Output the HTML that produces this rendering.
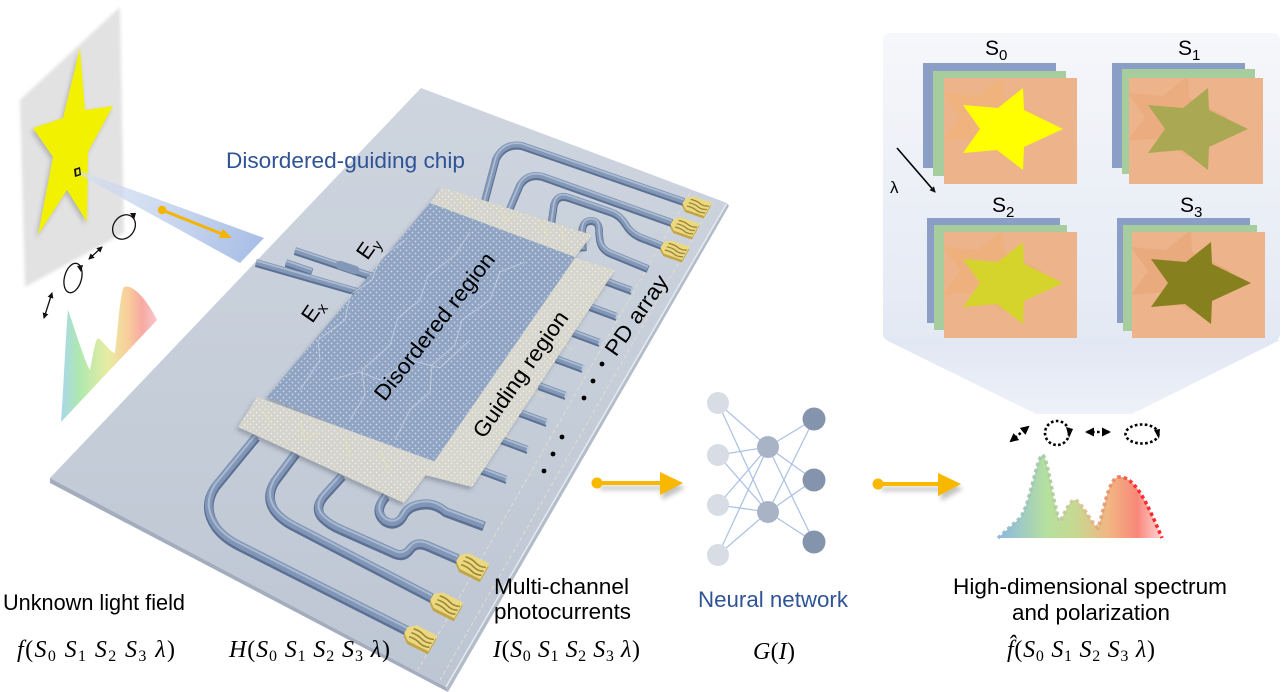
<!DOCTYPE html>
<html><head><meta charset="utf-8"><style>
html,body{margin:0;padding:0;background:#fff;}
svg{display:block;}
text{font-family:"Liberation Sans",Arial,sans-serif;}
.m text{font-family:"Liberation Serif","DejaVu Serif",serif;font-style:italic;}
.m tspan.u{font-style:normal;}
</style></head><body>
<svg width="1288" height="692" viewBox="0 0 1288 692" xmlns="http://www.w3.org/2000/svg">
<defs>
 <linearGradient id="chipG" x1="0" y1="0" x2="0" y2="1">
  <stop offset="0" stop-color="#ced5df"/><stop offset="1" stop-color="#bdc6d3"/>
 </linearGradient>
 <pattern id="dots" width="6" height="6" patternUnits="userSpaceOnUse">
  <circle cx="1.5" cy="1.5" r="0.85" fill="#fff" opacity="0.6"/>
  <circle cx="4.5" cy="4.5" r="0.85" fill="#fff" opacity="0.6"/>
 </pattern>
 <linearGradient id="beamG" x1="78" y1="172" x2="255" y2="250" gradientUnits="userSpaceOnUse">
  <stop offset="0" stop-color="#d4def2" stop-opacity="0.6"/><stop offset="1" stop-color="#a9bfe6"/>
 </linearGradient>
 <linearGradient id="specL" x1="60" y1="0" x2="157" y2="0" gradientUnits="userSpaceOnUse">
  <stop offset="0" stop-color="#9ed2ee"/><stop offset="0.2" stop-color="#a6e6a6"/>
  <stop offset="0.5" stop-color="#e6ea98"/><stop offset="0.7" stop-color="#f8c890"/>
  <stop offset="0.85" stop-color="#f6a098"/><stop offset="1" stop-color="#f8c0c8"/>
 </linearGradient>
 <linearGradient id="specR" x1="998" y1="0" x2="1162" y2="0" gradientUnits="userSpaceOnUse">
  <stop offset="0" stop-color="#8cb8e2"/><stop offset="0.3" stop-color="#b6e09e"/>
  <stop offset="0.48" stop-color="#c8d890"/><stop offset="0.68" stop-color="#f2b482"/>
  <stop offset="0.85" stop-color="#f8887a"/><stop offset="1" stop-color="#ffd4d8"/>
 </linearGradient>
 <linearGradient id="specRS" x1="998" y1="0" x2="1162" y2="0" gradientUnits="userSpaceOnUse">
  <stop offset="0" stop-color="#8ab8dc"/><stop offset="0.3" stop-color="#a6cca0"/>
  <stop offset="0.5" stop-color="#d8c498"/><stop offset="0.72" stop-color="#f08060"/>
  <stop offset="0.82" stop-color="#ff2020"/><stop offset="1" stop-color="#ff1010"/>
 </linearGradient>
 <linearGradient id="panelG" x1="0" y1="0" x2="0" y2="1">
  <stop offset="0" stop-color="#f6f7fb"/><stop offset="0.45" stop-color="#edf0f7"/><stop offset="1" stop-color="#e3e9f4"/>
 </linearGradient>
 <linearGradient id="funG" x1="0" y1="0" x2="0" y2="1">
  <stop offset="0" stop-color="#e1e7f3"/><stop offset="1" stop-color="#eef1f8"/>
 </linearGradient>
 <filter id="bl1" x="-20%" y="-20%" width="140%" height="140%"><feGaussianBlur stdDeviation="1.5"/></filter>
 <filter id="bl3" x="-30%" y="-30%" width="160%" height="160%"><feGaussianBlur stdDeviation="2.5"/></filter>
 <filter id="psh" x="-10%" y="-10%" width="120%" height="120%"><feDropShadow dx="-2" dy="3" stdDeviation="2" flood-color="#404a5a" flood-opacity="0.35"/></filter>
 <marker id="ah" markerWidth="6" markerHeight="6" refX="5" refY="3" orient="auto-start-reverse" markerUnits="userSpaceOnUse">
  <path d="M0,0 L6,3 L0,6 z" fill="#111"/>
 </marker>
 <marker id="ah2" markerWidth="9" markerHeight="9" refX="7" refY="4.5" orient="auto-start-reverse" markerUnits="userSpaceOnUse">
  <path d="M0,0 L9,4.5 L0,9 z" fill="#000"/>
 </marker>
 <path id="w1" d="M 256,436 L 215,486 Q 202,506 216,526 Q 224,537 240,545 L 408,630"/>
 <path id="w2" d="M 296,452 L 275,480 Q 265,496 275,510 Q 281,518 292,524 L 432,597"/>
 <path id="w3" d="M 342,475 L 323,496 Q 314,508 323,517 Q 330,524 342,529 L 396,553 Q 404,556 410,548 Q 416,540 428,545 L 458,558"/>
 <path id="w4" d="M 386,495 Q 373,510 385,520 Q 397,527 404,513 Q 410,503 428,503 Q 438,504 446,511 L 484,525"/>
 <path id="wa" d="M 484,203 L 496,158 Q 504,142 522,145 L 684,201"/>
 <path id="wb" d="M 508,212 L 520,184 Q 528,172 543,176 L 672,222"/>
 <path id="wc" d="M 551,225 L 554,204 Q 557,193 569,197 L 610,211 Q 620,214 626,224 Q 632,234 644,238 L 662,245"/>
 <path id="wd" d="M 583,250 L 582,232 Q 582,220 591,220 Q 600,220 599,232 L 600,240 Q 602,250 614,254 L 648,268"/>
 <path id="ea" d="M 256,262 L 368,294"/>
 <path id="eb" d="M 295,250 L 376,277"/>
 <path id="ec" d="M 286,262 L 312,271"/>
 <path id="stubs" d="M605,280 L632,290 M590,306 L617,316 M573,332 L600,342 M556,358 L583,368 M539,385 L566,395 M520,412 L547,422 M501,439 L528,449 M480,469 L507,479"/>
 <g id="pad">
  <polygon points="0,-3.5 7,-9 30,-9 30,9 7,9 0,3.5" fill="#c2a646" transform="translate(1,3)"/>
  <polygon points="0,-3.5 7,-9 30,-9 30,9 7,9 0,3.5" fill="#ecd97f"/>
  <path d="M6,-4.5 Q13,-5.5 18,-3.5 T29,-4 M6,0 Q13,-1 18,1 T29,0.5 M6,4.5 Q13,3.5 18,5.5 T29,5" stroke="#9a873a" stroke-width="1.6" fill="none"/>
 </g>
 <polygon id="st" points="119,51 80,69 79,92 53,72 19,75 36,51 19,27 54,30 79,10 80,32"/>
</defs>

<!-- left: screen + star -->
<polygon points="20,100 120,7 124,233 25,287" fill="#e2e2e2" filter="url(#bl1)"/>
<polygon points="80,48 85,110 113,106 88,152 87,222 67,190 38,235 53,157 33,128 63,118" fill="#888" opacity="0.5" filter="url(#bl3)" transform="translate(-2,3)"/>
<polygon points="80,48 85,110 113,106 88,152 87,222 67,190 38,235 53,157 33,128 63,118" fill="#f2f200"/>
<polygon points="78,170 80,175 240,263 264,238" fill="url(#beamG)"/>
<polygon points="74,169 80,167 81,175 75,177" fill="#111"/>
<polygon points="76,170 79,169 79.5,174 76.5,175" fill="#f2f200"/>
<line x1="162" y1="210" x2="222" y2="234" stroke="#f5b400" stroke-width="3"/>
<circle cx="162" cy="210" r="4.2" fill="#f5b400"/>
<polygon points="232,238 219,238.1 222.8,228.9" fill="#f5b400"/>
<g stroke="#111" stroke-width="1.3" fill="none">
 <line x1="44" y1="318" x2="52" y2="293" marker-start="url(#ah)" marker-end="url(#ah)"/>
 <ellipse cx="73" cy="278" rx="8.5" ry="15" transform="rotate(15 73 278)"/>
 <line x1="89" y1="259" x2="102" y2="247" marker-start="url(#ah)" marker-end="url(#ah)"/>
 <ellipse cx="124" cy="227" rx="10.5" ry="13" transform="rotate(35 124 227)"/>
</g>
<polygon points="77,266 83,265 81,272" fill="#111"/>
<polygon points="130,213 136,213 134,220" fill="#111"/>
<path d="M 61,422 C 64,380 66,330 68,310 C 72,320 84,360 90,370 C 93,355 95,340 98,338 C 104,342 110,352 115,353 C 118,330 120,292 124,287 C 134,283 150,305 157,320 Z" fill="url(#specL)" opacity="0.9"/>

<!-- chip -->
<polygon points="50,478 446,687 448,692 50,483" fill="#a3adbd"/>
<polygon points="446,687 727,203 729,206 448,692" fill="#b3bcc9"/>
<polygon points="421,88 727,203 446,687 50,478" fill="url(#chipG)"/>
<line x1="727" y1="203" x2="446" y2="687" stroke="#e6eaf0" stroke-width="1.5"/>
<line x1="690" y1="193" x2="418" y2="670" stroke="#e2ddd0" stroke-width="1" stroke-dasharray="4 3"/>
<line x1="713" y1="203" x2="440" y2="680" stroke="#e2ddd0" stroke-width="1" stroke-dasharray="4 3"/>

<g fill="none" stroke-linejoin="round">
 <g stroke="#5b7093" stroke-width="9.5" transform="translate(0,1.6)">
  <use href="#w1"/><use href="#w2"/><use href="#w3"/><use href="#w4"/>
 </g>
 <g stroke="#8196b6" stroke-width="7.5">
  <use href="#w1"/><use href="#w2"/><use href="#w3"/><use href="#w4"/>
 </g>
 <g stroke="#a9b9d1" stroke-width="2" transform="translate(0,-1.6)">
  <use href="#w1"/><use href="#w2"/><use href="#w3"/><use href="#w4"/>
 </g>
 <g stroke="#5b7093" stroke-width="7.5" transform="translate(0,1.3)">
  <use href="#wa"/><use href="#wb"/><use href="#wc"/><use href="#wd"/><use href="#ea"/><use href="#eb"/><use href="#ec"/><use href="#stubs"/>
 </g>
 <g stroke="#8398b7" stroke-width="6">
  <use href="#wa"/><use href="#wb"/><use href="#wc"/><use href="#wd"/><use href="#ea"/><use href="#eb"/><use href="#ec"/><use href="#stubs"/>
 </g>
 <g stroke="#aebdd3" stroke-width="1.6" transform="translate(0,-1.3)">
  <use href="#wa"/><use href="#wb"/><use href="#wc"/><use href="#wd"/><use href="#ea"/><use href="#eb"/><use href="#ec"/><use href="#stubs"/>
 </g>
 <line x1="340" y1="265" x2="355" y2="270" stroke="#8398b7" stroke-width="8.5" stroke-linecap="round"/>
</g>
<g stroke="#b8c6da" stroke-width="2">
 <path d="M633,287 L631,293 M618,313 L616,319 M601,339 L599,345 M584,365 L582,371 M567,392 L565,398 M548,419 L546,425 M529,446 L527,452 M508,476 L506,482"/>
</g>

<!-- patch -->
<g filter="url(#psh)">
 <polygon points="430,203 575,257 440,468 267,397" fill="#8fa3c3"/>
 <polygon points="430,203 575,257 440,468 267,397" fill="url(#dots)"/>
 <polygon points="442,187 592,235 575,257 430,203" fill="#d4d4cc"/>
 <polygon points="442,187 592,235 575,257 430,203" fill="url(#dots)"/>
 <polygon points="257,397 436,462 404,503 238,427" fill="#d4d4cc"/>
 <polygon points="257,397 436,462 404,503 238,427" fill="url(#dots)"/>
 <polygon points="575,258 615,270 472,487 425,475" fill="#d6d6cd"/>
 <polygon points="575,258 615,270 472,487 425,475" fill="url(#dots)"/>
</g>
<g fill="none" stroke="#dfe6f0" stroke-width="0.9" opacity="0.55">
 <path d="M300,390 L320,360 L318,340 L345,320 L350,295 L372,280 L380,258 L405,240"/>
 <path d="M350,420 L365,395 L362,370 L390,345 L398,318 L420,300 L428,276 L455,255 L470,232"/>
 <path d="M395,440 L410,410 L430,392 L432,365 L455,345 L462,320 L490,300 L500,272 L525,262"/>
 <path d="M330,380 L360,372 L380,380 L410,360 L440,368 L470,340"/>
</g>
<g fill="none" stroke="#efe3a8" stroke-width="0.9" opacity="0.6">
 <path d="M460,195 L470,210 M500,205 L505,222 L515,214 M540,220 L548,236 M560,228 L566,244"/>
 <path d="M262,410 L272,425 M300,420 L305,440 L318,432 M345,438 L350,458 M380,450 L388,470"/>
 <path d="M590,290 L600,300 M560,340 L572,350 M530,390 L545,398 M500,430 L512,440"/>
</g>

<use href="#pad" transform="matrix(0.894,0.447,-0.5,0.866,406,630)"/>
<use href="#pad" transform="matrix(0.894,0.447,-0.5,0.866,432,597)"/>
<use href="#pad" transform="matrix(0.894,0.447,-0.5,0.866,458,558)"/>
<use href="#pad" transform="matrix(0.80,0.28,-0.425,0.736,684,201)"/>
<use href="#pad" transform="matrix(0.80,0.28,-0.425,0.736,672,222)"/>
<use href="#pad" transform="matrix(0.80,0.28,-0.425,0.736,662,245)"/>

<g fill="#000">
 <circle cx="602" cy="364" r="2.4"/><circle cx="593" cy="381" r="2.4"/><circle cx="584" cy="398" r="2.4"/>
 <circle cx="562" cy="437" r="2.4"/><circle cx="553" cy="454" r="2.4"/><circle cx="544" cy="471" r="2.4"/>
</g>

<text x="226" y="168" font-size="22" fill="#2f5496" textLength="239" lengthAdjust="spacingAndGlyphs">Disordered-guiding chip</text>
<g transform="translate(434,326) rotate(-52)"><text x="0" y="8" text-anchor="middle" font-size="22" fill="#000" textLength="181" lengthAdjust="spacingAndGlyphs">Disordered region</text></g>
<g transform="translate(520,374) rotate(-55)"><text x="0" y="8" text-anchor="middle" font-size="22" fill="#000" textLength="149" lengthAdjust="spacingAndGlyphs">Guiding region</text></g>
<g transform="translate(636,315) rotate(-55)"><text x="0" y="8" text-anchor="middle" font-size="22" fill="#000" textLength="93" lengthAdjust="spacingAndGlyphs">PD array</text></g>
<g transform="translate(311,312) rotate(-55)"><text x="-9" y="8" font-size="22" fill="#000">E<tspan font-size="15" dy="4">x</tspan></text></g>
<g transform="translate(366,249) rotate(-55)"><text x="-9" y="8" font-size="22" fill="#000">E<tspan font-size="15" dy="4">y</tspan></text></g>

<!-- orange arrows -->
<g opacity="0.35" filter="url(#bl3)" fill="#555">
 <rect x="600" y="486" width="64" height="4"/><polygon points="662,476 685,488 662,500"/>
 <rect x="881" y="487" width="62" height="4"/><polygon points="941,477 963,489 941,501"/>
</g>
<g fill="#f9b800">
 <circle cx="597" cy="483" r="5.5"/><rect x="597" y="481" width="66" height="4"/><polygon points="660,472 683,483 660,495"/>
 <circle cx="878" cy="484" r="5.5"/><rect x="878" y="482" width="62" height="4"/><polygon points="938,473 961,484 938,496"/>
</g>

<!-- neural network -->
<g stroke="#a9c0e6" stroke-width="1.2">
 <line x1="718" y1="403" x2="768" y2="447"/><line x1="718" y1="403" x2="768" y2="512"/>
 <line x1="718" y1="455" x2="768" y2="447"/><line x1="718" y1="455" x2="768" y2="512"/>
 <line x1="718" y1="505" x2="768" y2="447"/><line x1="718" y1="505" x2="768" y2="512"/>
 <line x1="718" y1="555" x2="768" y2="447"/><line x1="718" y1="555" x2="768" y2="512"/>
 <line x1="768" y1="447" x2="814" y2="419"/><line x1="768" y1="447" x2="814" y2="480"/><line x1="768" y1="447" x2="814" y2="542"/>
 <line x1="768" y1="512" x2="814" y2="419"/><line x1="768" y1="512" x2="814" y2="480"/><line x1="768" y1="512" x2="814" y2="542"/>
</g>
<g fill="#d7dce5">
 <circle cx="718" cy="403" r="11"/><circle cx="718" cy="455" r="11"/><circle cx="718" cy="505" r="11"/><circle cx="718" cy="555" r="11"/>
</g>
<g fill="#a8b3c5"><circle cx="768" cy="447" r="11"/><circle cx="768" cy="512" r="11"/></g>
<g fill="#8594ad"><circle cx="814" cy="419" r="11.5"/><circle cx="814" cy="480" r="11.5"/><circle cx="814" cy="542" r="11.5"/></g>

<!-- top-right panel -->
<polygon points="886,340 1280,340 1132,414 1036,414" fill="url(#funG)"/>
<rect x="883" y="33" width="397" height="308" rx="7" fill="url(#panelG)"/>
<rect x="923" y="63" width="133" height="105" fill="#8a9ec6"/>
<rect x="933" y="71" width="133" height="105" fill="#a7cd9e"/>
<svg x="944" y="78" width="133" height="106">
 <rect width="133" height="106" fill="#edb38a"/>
 <use href="#st" fill="#f2b274" opacity="0.6" transform="translate(-20,-12)"/>
 <use href="#st" fill="#ffff00"/>
</svg>
<rect x="1112" y="63" width="133" height="105" fill="#8a9ec6"/>
<rect x="1122" y="69" width="133" height="105" fill="#a7cd9e"/>
<svg x="1129" y="78" width="134" height="106">
 <rect width="134" height="106" fill="#edb38a"/>
 <use href="#st" fill="#e9a878" opacity="0.6" transform="translate(-20,-12)"/>
 <use href="#st" fill="#aaa852"/>
</svg>
<rect x="927" y="218" width="133" height="105" fill="#8a9ec6"/>
<rect x="934" y="225" width="133" height="105" fill="#a7cd9e"/>
<svg x="944" y="232" width="133" height="106">
 <rect width="133" height="106" fill="#edb38a"/>
 <use href="#st" fill="#efae74" opacity="0.6" transform="translate(-20,-12)"/>
 <use href="#st" fill="#d5d42c"/>
</svg>
<rect x="1117" y="218" width="133" height="105" fill="#8a9ec6"/>
<rect x="1123" y="225" width="134" height="106" fill="#a7cd9e"/>
<svg x="1132" y="232" width="133" height="106">
 <rect width="133" height="106" fill="#edb38a"/>
 <use href="#st" fill="#e6a474" opacity="0.6" transform="translate(-20,-12)"/>
 <use href="#st" fill="#86801f"/>
</svg>
<g font-size="21" fill="#000">
 <text x="985" y="55">S<tspan font-size="15" dy="5">0</tspan></text>
 <text x="1178" y="55">S<tspan font-size="15" dy="5">1</tspan></text>
 <text x="992" y="212">S<tspan font-size="15" dy="5">2</tspan></text>
 <text x="1180" y="212">S<tspan font-size="15" dy="5">3</tspan></text>
</g>
<line x1="897" y1="148" x2="935" y2="192" stroke="#000" stroke-width="1.6" marker-end="url(#ah)"/>
<text x="890" y="193" font-size="17" fill="#000">λ</text>

<!-- right spectrum + icons -->
<g fill="none" stroke="#000" stroke-width="2.6" stroke-dasharray="2.6 2.4">
 <line x1="1011" y1="441" x2="1028" y2="427" marker-start="url(#ah2)" marker-end="url(#ah2)"/>
 <circle cx="1057" cy="433" r="12"/>
 <line x1="1087" y1="432" x2="1109" y2="432" marker-start="url(#ah2)" marker-end="url(#ah2)"/>
 <ellipse cx="1142" cy="434" rx="16.5" ry="9.5"/>
</g>
<polygon points="1066,427 1073,429 1069,438" fill="#000"/>
<polygon points="1154,430 1160,429 1159,439" fill="#000"/>
<path d="M 998,538 L 1020,518 C 1030,505 1036,460 1042,455 C 1048,455 1052,500 1060,522 C 1066,510 1070,500 1075,500 C 1082,502 1090,522 1098,528 C 1104,510 1108,480 1118,477 C 1135,475 1148,505 1162,538 Z" fill="url(#specR)"/>
<path d="M 998,538 L 1020,518 C 1030,505 1036,460 1042,455 C 1048,455 1052,500 1060,522 C 1066,510 1070,500 1075,500 C 1082,502 1090,522 1098,528 C 1104,510 1108,480 1118,477 C 1135,475 1148,505 1162,538" fill="none" stroke="url(#specRS)" stroke-width="3.5" stroke-dasharray="3.5 3" opacity="0.9"/>

<!-- bottom labels -->
<g font-size="22" fill="#000">
 <text x="3" y="610" textLength="182" lengthAdjust="spacingAndGlyphs">Unknown light field</text>
 <text x="494" y="594" textLength="135" lengthAdjust="spacingAndGlyphs">Multi-channel</text>
 <text x="494" y="619" textLength="137" lengthAdjust="spacingAndGlyphs">photocurrents</text>
 <text x="953" y="594" textLength="274" lengthAdjust="spacingAndGlyphs">High-dimensional spectrum</text>
 <text x="1012" y="620" textLength="158" lengthAdjust="spacingAndGlyphs">and polarization</text>
</g>
<text x="698" y="607" font-size="22" fill="#2f5496" textLength="150" lengthAdjust="spacingAndGlyphs">Neural network</text>

<g class="m" font-size="24" fill="#000">
 <text x="17" y="657" textLength="158" lengthAdjust="spacing">f<tspan class="u">(</tspan>S<tspan class="u" font-size="16" dy="4">0</tspan><tspan dy="-4"> S</tspan><tspan class="u" font-size="16" dy="4">1</tspan><tspan dy="-4"> S</tspan><tspan class="u" font-size="16" dy="4">2</tspan><tspan dy="-4"> S</tspan><tspan class="u" font-size="16" dy="4">3</tspan><tspan dy="-4"> λ</tspan><tspan class="u">)</tspan></text>
 <text x="229" y="657" textLength="161" lengthAdjust="spacing">H<tspan class="u">(</tspan>S<tspan class="u" font-size="16" dy="4">0</tspan><tspan dy="-4"> S</tspan><tspan class="u" font-size="16" dy="4">1</tspan><tspan dy="-4"> S</tspan><tspan class="u" font-size="16" dy="4">2</tspan><tspan dy="-4"> S</tspan><tspan class="u" font-size="16" dy="4">3</tspan><tspan dy="-4"> λ</tspan><tspan class="u">)</tspan></text>
 <text x="493" y="657" textLength="147" lengthAdjust="spacing">I<tspan class="u">(</tspan>S<tspan class="u" font-size="16" dy="4">0</tspan><tspan dy="-4"> S</tspan><tspan class="u" font-size="16" dy="4">1</tspan><tspan dy="-4"> S</tspan><tspan class="u" font-size="16" dy="4">2</tspan><tspan dy="-4"> S</tspan><tspan class="u" font-size="16" dy="4">3</tspan><tspan dy="-4"> λ</tspan><tspan class="u">)</tspan></text>
 <text x="753" y="659" textLength="42" lengthAdjust="spacing">G<tspan class="u">(</tspan>I<tspan class="u">)</tspan></text>
 <text x="1007" y="657" textLength="148" lengthAdjust="spacing">f̂<tspan class="u">(</tspan>S<tspan class="u" font-size="16" dy="4">0</tspan><tspan dy="-4"> S</tspan><tspan class="u" font-size="16" dy="4">1</tspan><tspan dy="-4"> S</tspan><tspan class="u" font-size="16" dy="4">2</tspan><tspan dy="-4"> S</tspan><tspan class="u" font-size="16" dy="4">3</tspan><tspan dy="-4"> λ</tspan><tspan class="u">)</tspan></text>
</g>
</svg>
</body></html>
